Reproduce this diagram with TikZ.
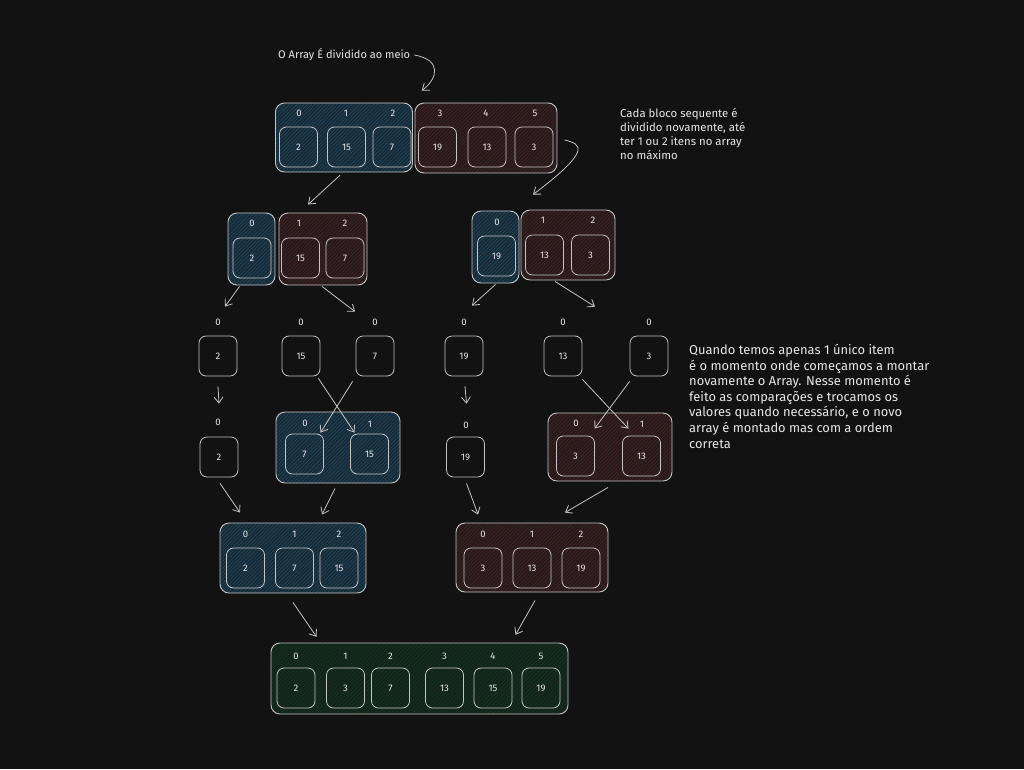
\documentclass[tikz,border=0pt]{standalone}
\usepackage{fontspec}
\setmainfont{Fira Sans}
\usetikzlibrary{arrows.meta,patterns.meta,calc}
\definecolor{bg}{HTML}{121212}
\definecolor{strokec}{HTML}{C4C4C4}
\definecolor{txt}{HTML}{E6E6E6}
\definecolor{bluef}{HTML}{162B38}
\definecolor{blueh}{HTML}{284A5E}
\definecolor{redf}{HTML}{271919}
\definecolor{redh}{HTML}{452A2A}
\definecolor{greenf}{HTML}{12251A}
\definecolor{greenh}{HTML}{1B3823}
\newcommand{\digitfont}{\fontsize{9.5}{11}\selectfont}
\begin{document}
\begin{tikzpicture}[x=1pt,y=-1pt,
  outer/.style={draw=strokec, line width=0.9pt, rounded corners=9pt, inner sep=0pt},
  blueg/.style={outer, preaction={fill=bluef}, pattern={Lines[angle=45,distance=2.6pt,line width=0.5pt]}, pattern color=blueh},
  redg/.style={outer, preaction={fill=redf}, pattern={Lines[angle=45,distance=2.6pt,line width=0.5pt]}, pattern color=redh},
  greeng/.style={outer, preaction={fill=greenf}, pattern={Lines[angle=45,distance=3pt,line width=0.4pt]}, pattern color=greenh},
  cell/.style={draw=strokec, line width=0.8pt, rounded corners=7pt, minimum width=38pt, minimum height=40pt, inner sep=0pt, font=\digitfont, text=txt},
  idx/.style={font=\digitfont, text=txt, inner sep=0pt},
  note/.style={text=txt, inner sep=0pt, anchor=north west, align=left},
  arr/.style={draw=strokec, line width=0.8pt, -{Straight Barb[length=6pt,width=9pt]}}
]
\fill[bg] (0,0) rectangle (1024,769);
\useasboundingbox (0,0) rectangle (1024,769);

% ---- texts ----
\node[note, anchor=west, font=\fontsize{11}{13}\selectfont] (t1) at (278,55) {O Array É dividido ao meio};
\node[note, font=\fontsize{11.4}{14}\selectfont] (t2) at (620,108) {Cada bloco sequente é\\dividido novamente, até\\ter 1 ou 2 itens no array\\no máximo};
\node[note, font=\fontsize{12.9}{15.6}\selectfont] (t3) at (689,344) {Quando temos apenas 1 único item\\é o momento onde começamos a montar\\novamente o Array. Nesse momento é\\feito as comparações e trocamos os\\valores quando necessário, e o novo\\array é montado mas com a ordem\\correta};

% ---- top array ----
\node[blueg, minimum width=137pt, minimum height=69pt] (A) at (344,137.5) {};
\node[redg, minimum width=142pt, minimum height=70pt] (B) at (486,138) {};
\node[idx] (a0) at (299,113) {0};
\node[idx] (a1) at (346,113) {1};
\node[idx] (a2) at (393,113) {2};
\node[idx] (a3) at (440,113) {3};
\node[idx] (a4) at (486,113) {4};
\node[idx] (a5) at (535,113) {5};
\node[cell] (ac0) at (298.5,147) {2};
\node[cell] (ac1) at (346.5,147) {15};
\node[cell] (ac2) at (392,147) {7};
\node[cell] (ac3) at (437.5,147) {19};
\node[cell] (ac4) at (487,147) {13};
\node[cell] (ac5) at (534,147) {3};

% ---- level 2 ----
\node[blueg, minimum width=47pt, minimum height=72pt] (L2b) at (251.5,249) {};
\node[redg, minimum width=88pt, minimum height=72pt] (L2r) at (323,249) {};
\node[idx] (l0) at (252,223) {0};
\node[idx] (l1) at (299,223) {1};
\node[idx] (l2) at (345,223) {2};
\node[cell] (lc0) at (252,258) {2};
\node[cell] (lc1) at (300.5,258) {15};
\node[cell] (lc2) at (345,258) {7};

\node[blueg, minimum width=47pt, minimum height=72pt] (R2b) at (495.5,247) {};
\node[redg, minimum width=94pt, minimum height=70pt] (R2r) at (568,245) {};
\node[idx] (r0) at (497,222) {0};
\node[idx] (r1) at (543,220) {1};
\node[idx] (r2) at (593,220) {2};
\node[cell] (rc0) at (496.5,256) {19};
\node[cell] (rc1) at (544.5,255) {13};
\node[cell] (rc2) at (590.5,255) {3};

% ---- level 3 singles ----
\foreach \n/\x/\v in {S1/218/2, S2/301/15, S3/375/7, S4/464/19, S5/563/13, S6/649/3}{
  \node[cell] (\n) at (\x,356) {\v};
  \node[idx] (\n i) at (\x,322) {0};
}

% ---- level 4 ----
\node[cell] (D1) at (219,457) {2};
\node[idx] (D1i) at (218,422) {0};
\node[cell] (D2) at (465.5,457) {19};
\node[idx] (D2i) at (466,425) {0};

\node[blueg, minimum width=124pt, minimum height=71pt] (BL4) at (338,447.5) {};
\node[idx] (m0) at (305,423) {0};
\node[idx] (m1) at (370,424) {1};
\node[cell] (M1) at (304.5,454) {7};
\node[cell] (M2) at (369.5,454) {15};

\node[redg, minimum width=124pt, minimum height=68pt] (RL4) at (610,447) {};
\node[idx] (n0) at (576,423) {0};
\node[idx] (n1) at (642,424) {1};
\node[cell] (N1) at (575.5,456) {3};
\node[cell] (N2) at (641.5,456) {13};

% ---- level 5 ----
\node[blueg, minimum width=146pt, minimum height=70pt] (F1) at (293,558) {};
\node[redg, minimum width=152pt, minimum height=69pt] (F2) at (532,557.5) {};
\foreach \n/\x/\i/\v in {f0/245.5/0/2, f1/294.5/1/7, f2/339/2/15, g0/483/0/3, g1/532/1/13, g2/581/2/19}{
  \node[cell] (\n) at (\x,568) {\v};
  \node[idx] (\n i) at (\x,534) {\i};
}

% ---- final ----
\node[greeng, minimum width=297pt, minimum height=71pt] (G) at (419.5,678.5) {};
\foreach \n/\x/\i/\v in {h0/296/0/2, h1/345.5/1/3, h2/390.5/2/7, h3/444.5/3/13, h4/493/4/15, h5/541/5/19}{
  \node[cell] (\n) at (\x,688) {\v};
  \node[idx] (\n i) at (\x,656) {\i};
}

% ---- connectors ----
\draw[arr] ([xshift=4pt]t1.east) .. controls (442,60) and (438,78) .. ([xshift=9pt,yshift=12pt]A.north east);
\draw[arr] ([xshift=-4pt,yshift=-3pt]A.south) -- ([xshift=-15pt,yshift=8pt]L2r.north);
\draw[arr] ([xshift=7pt,yshift=-2pt]B.east) .. controls (582,144) and (592,150) .. ([xshift=-35pt,yshift=15pt]R2r.north);
\draw[arr] ([xshift=-12pt,yshift=-1pt]L2b.south) -- ([xshift=7pt,yshift=29pt]S1.north);
\draw[arr] ([xshift=-1pt,yshift=-1pt]L2r.south) -- ([xshift=-20pt,yshift=24pt]S3.north);
\draw[arr] ([xshift=0pt,yshift=-1pt]R2b.south) -- ([xshift=8pt,yshift=30pt]S4.north);
\draw[arr] ([xshift=-13pt,yshift=-1pt]R2r.south) -- ([xshift=32pt,yshift=29pt]S5.north);
\draw[arr] ([yshift=-10pt]S1.south) -- ([yshift=33pt]D1.north);
\draw[arr] ([xshift=1pt,yshift=-10pt]S4.south) -- ([xshift=1pt,yshift=33pt]D2.north);
\draw[arr] ([xshift=-2pt,yshift=-2pt]S2.south east) -- ([xshift=-15pt,yshift=1pt]M2.north);
\draw[arr] ([xshift=-3pt,yshift=-5pt]S3.south west) -- ([xshift=16pt,yshift=1pt]M1.north);
\draw[arr] ([yshift=-3pt]S5.south east) -- ([xshift=-13pt,yshift=7pt]N2.north);
\draw[arr] ([yshift=-5pt]S6.south west) -- ([xshift=19pt,yshift=7pt]N1.north);
\draw[arr] ([xshift=1pt,yshift=-6pt]D1.south) -- ([xshift=-53pt,yshift=10pt]F1.north);
\draw[arr] ([xshift=-3pt,yshift=-5pt]BL4.south) -- ([xshift=29pt,yshift=8pt]F1.north);
\draw[arr] ([xshift=1pt,yshift=-6pt]D2.south) -- ([xshift=-54pt,yshift=8pt]F2.north);
\draw[arr] ([xshift=-2pt,yshift=-6pt]RL4.south) -- ([xshift=33pt,yshift=10pt]F2.north);
\draw[arr] ([yshift=-9pt]F1.south) -- ([xshift=-103pt,yshift=6pt]G.north);
\draw[arr] ([xshift=3pt,yshift=-8pt]F2.south) -- ([xshift=96pt,yshift=8pt]G.north);
\end{tikzpicture}
\end{document}
